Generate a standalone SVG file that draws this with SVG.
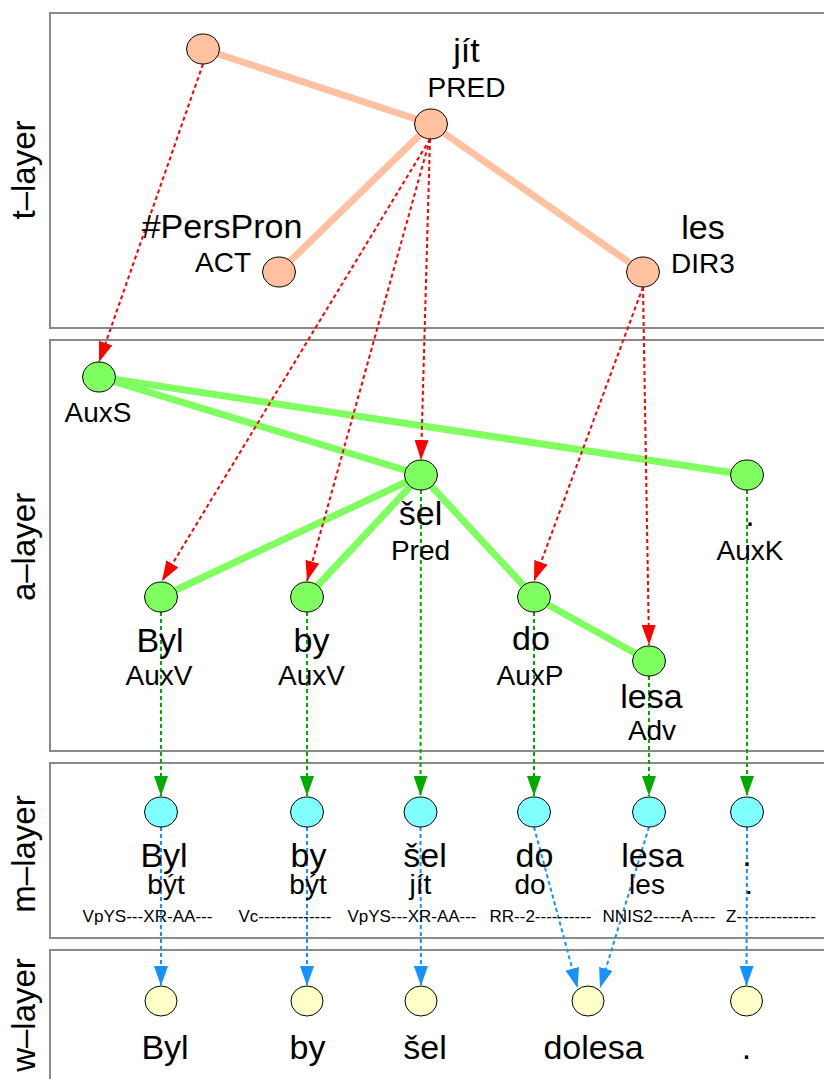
<svg xmlns="http://www.w3.org/2000/svg" width="824" height="1079" viewBox="0 0 824 1079">
<style>
.panel{fill:#ffffff;stroke:#8a8a8a;stroke-width:2}
.lay{font-family:"Liberation Sans",Arial,sans-serif;font-size:33px;fill:#000;text-anchor:middle}
.w{font-family:"Liberation Sans",Arial,sans-serif;font-size:34px;fill:#000;text-anchor:middle}
.f{font-family:"Liberation Sans",Arial,sans-serif;font-size:28px;fill:#000;text-anchor:middle}
.tag{font-family:"Liberation Sans",Arial,sans-serif;font-size:16.5px;fill:#000}
.tn{fill:#FFC1A0;stroke:#000;stroke-width:1}
.an{fill:#80FF60;stroke:#000;stroke-width:1}
.mn{fill:#80FFFF;stroke:#000;stroke-width:1}
.wn{fill:#FFFFC8;stroke:#000;stroke-width:1}
.te{stroke:#FFC1A0;stroke-width:7;fill:none}
.ae{stroke:#7FFF60;stroke-width:7;fill:none}
.red{stroke:#FF0000;stroke-width:2;stroke-dasharray:4,3;fill:none;marker-end:url(#ar)}
.grn{stroke:#00AA00;stroke-width:2;stroke-dasharray:4,3;fill:none;marker-end:url(#ag)}
.blu{stroke:#1493FF;stroke-width:2;stroke-dasharray:4,3;fill:none;marker-end:url(#ab)}
</style>
<defs>
<marker id="ar" markerUnits="userSpaceOnUse" markerWidth="20" markerHeight="14" refX="20" refY="7" orient="auto"><path d="M0,0 L20,7 L0,14 z" fill="#FF0000"/></marker>
<marker id="ag" markerUnits="userSpaceOnUse" markerWidth="20" markerHeight="14" refX="20" refY="7" orient="auto"><path d="M0,0 L20,7 L0,14 z" fill="#00AA00"/></marker>
<marker id="ab" markerUnits="userSpaceOnUse" markerWidth="20" markerHeight="14" refX="20" refY="7" orient="auto"><path d="M0,0 L20,7 L0,14 z" fill="#1493FF"/></marker>
</defs>
<rect width="824" height="1079" fill="#ffffff"/>
<g id="panels">
<rect class="panel" x="50" y="13" width="800" height="315"/>
<rect class="panel" x="50" y="340" width="800" height="411"/>
<rect class="panel" x="50" y="763" width="800" height="175"/>
<rect class="panel" x="50" y="950" width="800" height="160"/>
<text class="lay" transform="translate(35,170) rotate(-90)">t–layer</text>
<text class="lay" transform="translate(35,547) rotate(-90)">a–layer</text>
<text class="lay" transform="translate(35,854) rotate(-90)">m–layer</text>
<text class="lay" transform="translate(35,1015) rotate(-90)">w–layer</text>
</g>
<g id="connectors">
<line class="te" x1="203" y1="49" x2="431" y2="124"/>
<line class="te" x1="431" y1="124" x2="279" y2="272"/>
<line class="te" x1="431" y1="124" x2="643" y2="272"/>
<line class="ae" x1="99" y1="377" x2="421" y2="475"/>
<line class="ae" x1="99" y1="377" x2="747" y2="475"/>
<line class="ae" x1="421" y1="475" x2="161" y2="597"/>
<line class="ae" x1="421" y1="475" x2="307" y2="597"/>
<line class="ae" x1="421" y1="475" x2="534" y2="597"/>
<line class="ae" x1="534" y1="597" x2="649" y2="661"/>
<line class="red" x1="203" y1="64" x2="99" y2="362"/>
<line class="red" x1="430" y1="139" x2="162" y2="581"/>
<line class="red" x1="430" y1="139" x2="307" y2="581"/>
<line class="red" x1="430" y1="139" x2="421" y2="460"/>
<line class="red" x1="643" y1="287" x2="534" y2="581"/>
<line class="red" x1="643" y1="287" x2="649" y2="645"/>
<line class="grn" x1="161" y1="612" x2="161" y2="796"/>
<line class="grn" x1="307" y1="612" x2="307" y2="796"/>
<line class="grn" x1="421" y1="490" x2="420.5" y2="796"/>
<line class="grn" x1="534" y1="612" x2="534" y2="796"/>
<line class="grn" x1="649" y1="676" x2="649" y2="796"/>
<line class="grn" x1="747" y1="490" x2="747" y2="796"/>
<line class="blu" x1="161" y1="827" x2="161" y2="986"/>
<line class="blu" x1="307" y1="827" x2="307" y2="986"/>
<line class="blu" x1="420.5" y1="827" x2="421" y2="986"/>
<line class="blu" x1="534" y1="827" x2="577.5" y2="988"/>
<line class="blu" x1="649" y1="827" x2="600" y2="988"/>
<line class="blu" x1="747" y1="827" x2="746.5" y2="986"/>
</g>
<g id="t-root"><ellipse class="tn" cx="203" cy="49" rx="16.5" ry="15"/></g>
<g id="t-jit"><ellipse class="tn" cx="431" cy="124" rx="16.5" ry="15"/><text class="w" x="466.5" y="62">jít</text><text class="f" x="466.5" y="96.5">PRED</text></g>
<g id="t-perspron"><ellipse class="tn" cx="279" cy="272" rx="16.5" ry="15"/><text class="w" x="222" y="238">#PersPron</text><text class="f" x="223" y="272">ACT</text></g>
<g id="t-les"><ellipse class="tn" cx="643" cy="272" rx="16.5" ry="15"/><text class="w" x="703" y="239">les</text><text class="f" x="703" y="273">DIR3</text></g>
<g id="a-auxs"><ellipse class="an" cx="99" cy="377" rx="16.5" ry="15"/><text class="f" x="98" y="421.5">AuxS</text></g>
<g id="a-sel"><ellipse class="an" cx="421" cy="475" rx="16.5" ry="15"/><text class="w" x="420.5" y="525">šel</text><text class="f" x="420.5" y="560">Pred</text></g>
<g id="a-auxk"><ellipse class="an" cx="747" cy="475" rx="16.5" ry="15"/><text class="w" x="750" y="526">.</text><text class="f" x="750" y="560">AuxK</text></g>
<g id="a-byl"><ellipse class="an" cx="161" cy="597" rx="16.5" ry="15"/><text class="w" x="160" y="651.5">Byl</text><text class="f" x="159" y="685">AuxV</text></g>
<g id="a-by"><ellipse class="an" cx="307" cy="597" rx="16.5" ry="15"/><text class="w" x="311.5" y="651.5">by</text><text class="f" x="311.5" y="685">AuxV</text></g>
<g id="a-do"><ellipse class="an" cx="534" cy="597" rx="16.5" ry="15"/><text class="w" x="531" y="650">do</text><text class="f" x="530" y="684.5">AuxP</text></g>
<g id="a-lesa"><ellipse class="an" cx="649" cy="661" rx="16.5" ry="15"/><text class="w" x="651.5" y="708">lesa</text><text class="f" x="652" y="740">Adv</text></g>
<g id="m-byl"><ellipse class="mn" cx="161" cy="812" rx="16.5" ry="15"/><text class="w" x="164" y="866.5">Byl</text><text class="f" x="166" y="894">být</text><text class="tag" x="82.5" y="921.5" textLength="130" lengthAdjust="spacingAndGlyphs">VpYS---XR-AA---</text></g>
<g id="m-by"><ellipse class="mn" cx="307" cy="812" rx="16.5" ry="15"/><text class="w" x="308.5" y="866.5">by</text><text class="f" x="308" y="894">být</text><text class="tag" x="238.5" y="921.5" textLength="93" lengthAdjust="spacingAndGlyphs">Vc-------------</text></g>
<g id="m-sel"><ellipse class="mn" cx="420.5" cy="812" rx="16.5" ry="15"/><text class="w" x="425" y="866.5">šel</text><text class="f" x="420.5" y="894">jít</text><text class="tag" x="347.5" y="921.5" textLength="129" lengthAdjust="spacingAndGlyphs">VpYS---XR-AA---</text></g>
<g id="m-do"><ellipse class="mn" cx="534" cy="812" rx="16.5" ry="15"/><text class="w" x="534.5" y="866.5">do</text><text class="f" x="530" y="894">do</text><text class="tag" x="489.5" y="921.5" textLength="102" lengthAdjust="spacingAndGlyphs">RR--2----------</text></g>
<g id="m-lesa"><ellipse class="mn" cx="649" cy="812" rx="16.5" ry="15"/><text class="w" x="652.5" y="866.5">lesa</text><text class="f" x="647" y="894">les</text><text class="tag" x="602.5" y="921.5" textLength="113" lengthAdjust="spacingAndGlyphs">NNIS2-----A----</text></g>
<g id="m-dot"><ellipse class="mn" cx="747" cy="812" rx="16.5" ry="15"/><text class="w" x="747" y="866">.</text><text class="f" x="749" y="894">.</text><text class="tag" x="726" y="921.5" textLength="90" lengthAdjust="spacingAndGlyphs">Z--------------</text></g>
<g id="w-byl"><ellipse class="wn" cx="161" cy="1001" rx="16" ry="15"/><text class="w" x="165" y="1059">Byl</text></g>
<g id="w-by"><ellipse class="wn" cx="307" cy="1001" rx="16" ry="15"/><text class="w" x="307.5" y="1059">by</text></g>
<g id="w-sel"><ellipse class="wn" cx="421" cy="1001" rx="16" ry="15"/><text class="w" x="425" y="1059">šel</text></g>
<g id="w-dolesa"><ellipse class="wn" cx="588" cy="1001" rx="16" ry="15"/><text class="w" x="593.5" y="1059">dolesa</text></g>
<g id="w-dot"><ellipse class="wn" cx="746.5" cy="1001" rx="16" ry="15"/><text class="w" x="746.5" y="1059">.</text></g>
</svg>
